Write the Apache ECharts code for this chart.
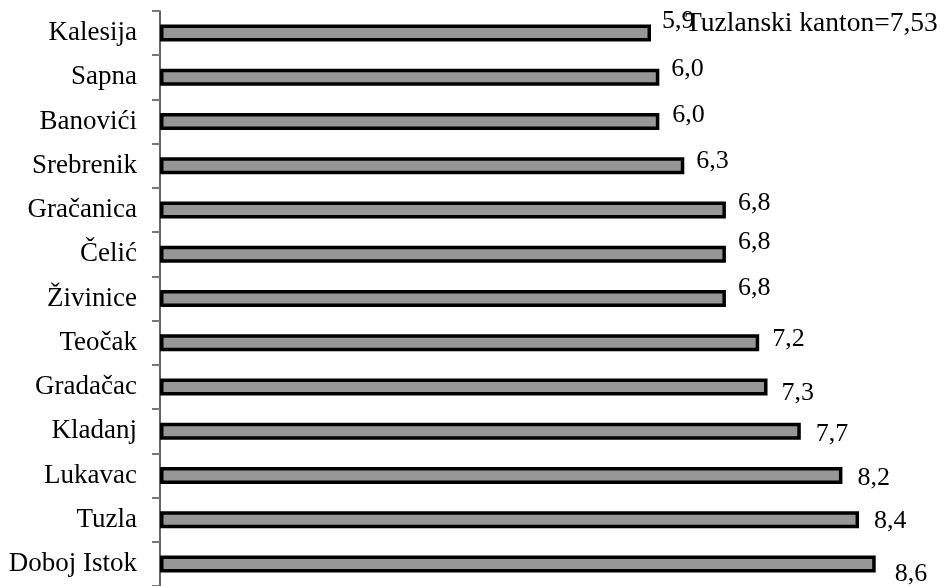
<!DOCTYPE html>
<html>
<head>
<meta charset="utf-8">
<script src="https://cdn.jsdelivr.net/npm/echarts@6/dist/echarts.min.js"></script>
<style>
  html, body { margin: 0; padding: 0; background: #fff; }
  #chart { width: 944px; height: 586px; }
</style>
</head>
<body>
<div id="chart"></div>
<script>
// Municipalities of Tuzla Canton, top to bottom
const municipalities = ['Kalesija', 'Sapna', 'Banovići', 'Srebrenik', 'Gračanica', 'Čelić',
  'Živinice', 'Teočak', 'Gradačac', 'Kladanj', 'Lukavac', 'Tuzla', 'Doboj Istok'];
const values = [5.9, 6.0, 6.0, 6.3, 6.8, 6.8, 6.8, 7.2, 7.3, 7.7, 8.2, 8.4, 8.6];
const cantonLabel = 'Tuzlanski kanton=7,53';

// Vertical nudge of each value label (px), same order as municipalities
const labelNudges = [-12, -8, -6, -5, -7, -12, -10, -4, 6, 3, 3, 2, 10];
const labelGaps = [12, 13, 14, 13, 13, 13, 13, 14, 15, 16, 16, 16, 20];

const FONT = '"Liberation Serif", "Times New Roman", serif';

const chart = echarts.init(document.getElementById('chart'), null, { renderer: 'canvas' });

const seriesData = values.map((v, i) => ({
  value: v,
  label: { offset: [labelGaps[i] - 6, labelNudges[i]] }
}));

chart.setOption({
  animation: false,
  backgroundColor: '#ffffff',
  title: {
    text: cantonLabel,
    left: 680,
    top: 5,
    textStyle: { fontFamily: FONT, fontSize: 27.5, fontWeight: 'normal', color: '#000' }
  },
  grid: { left: 160, right: 35, top: 11, bottom: 0, containLabel: false },
  xAxis: {
    type: 'value',
    min: 0,
    max: 9,
    show: false
  },
  yAxis: {
    type: 'category',
    data: municipalities,
    inverse: true,
    axisLine: { show: true, lineStyle: { color: '#333', width: 1.5 } },
    axisTick: { show: true, length: 8, lineStyle: { color: '#777', width: 2 } },
    axisLabel: {
      margin: 23,
      fontFamily: FONT,
      fontSize: 27,
      color: '#000'
    },
    splitLine: { show: false }
  },
  series: [{
    type: 'bar',
    data: seriesData,
    barWidth: 17,
    itemStyle: { color: '#969696', borderColor: '#000', borderWidth: 3.5 },
    label: {
      show: true,
      position: 'right',
      distance: 5,
      fontFamily: FONT,
      fontSize: 26,
      color: '#000',
      formatter: p => p.value.toFixed(1).replace('.', ',')
    }
  }]
});
</script>
</body>
</html>
